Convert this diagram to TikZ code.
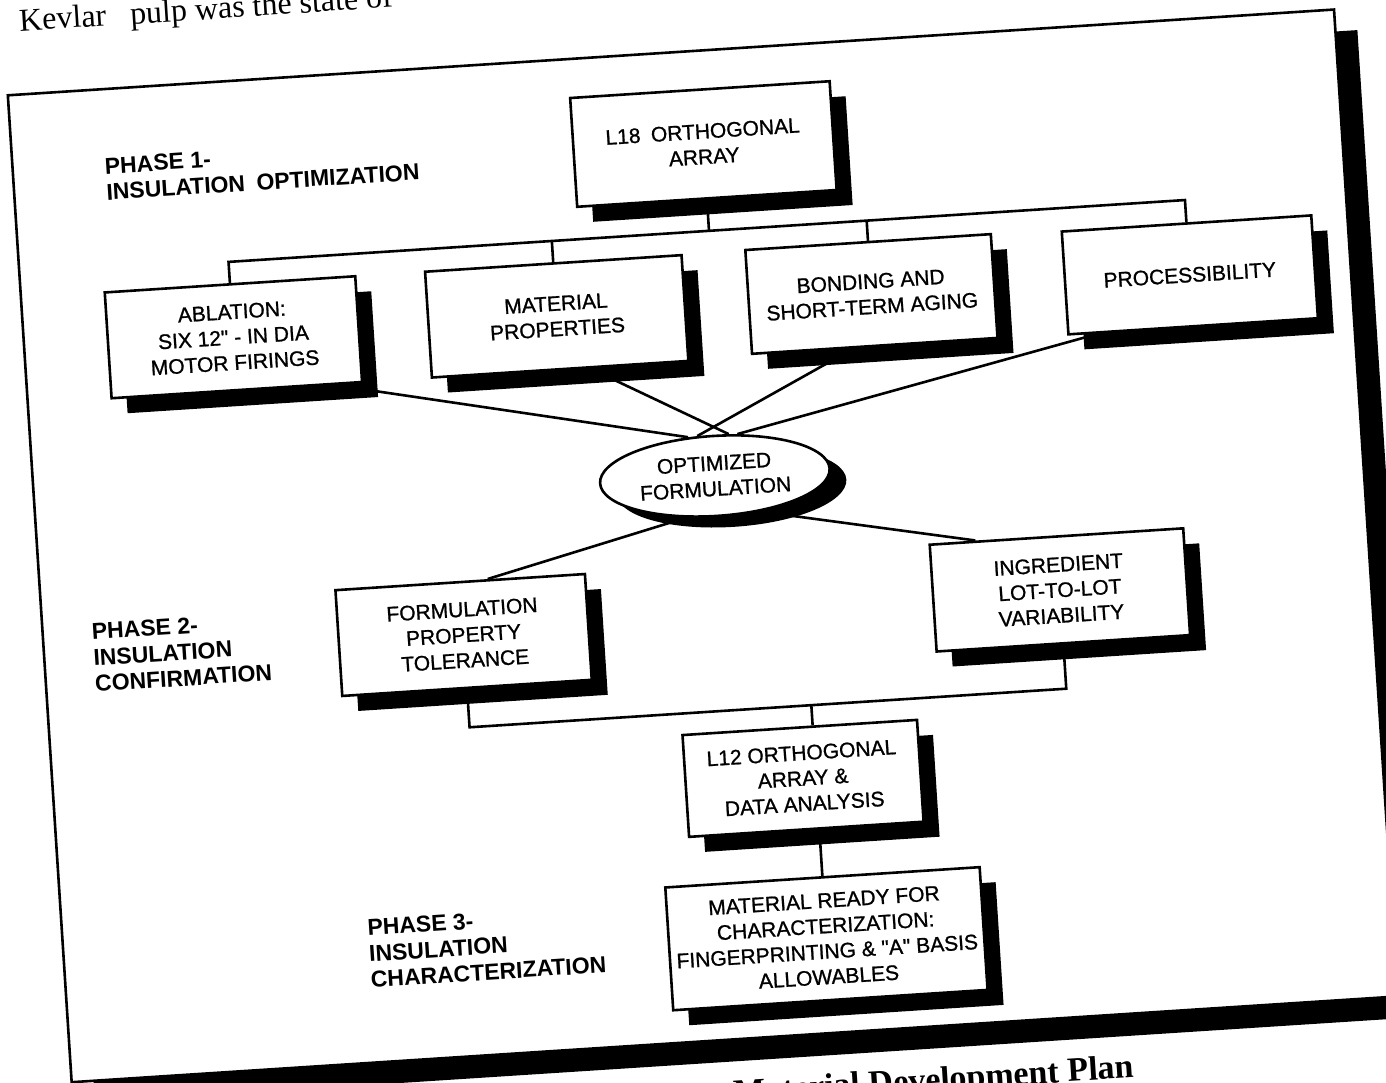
\documentclass[tikz,border=0pt]{standalone}
\usepackage{fontspec}
\setmainfont{Liberation Sans}
\newfontfamily\boxfont{Liberation Sans}[BoldFont={Liberation Sans}, BoldFeatures={FakeBold=1.0}]
\newfontfamily\bookfont{Liberation Serif}
\usetikzlibrary{shapes.geometric}

\tikzset{
  ink/.style={line width=2.6pt, line join=miter},
  wire/.style={ink},
  shade/.style={fill=black},
  box/.style={draw, ink, fill=white, align=center, inner sep=0pt,
    font=\boxfont\bfseries\fontsize{21}{25.5}\selectfont},
  oval/.style={ellipse, draw, ink, fill=white, align=center, inner sep=0pt,
    minimum width=230pt, minimum height=80pt, font=\boxfont\bfseries\fontsize{21}{25.5}\selectfont},
  phase/.style={align=left, anchor=west, inner sep=0pt,
    font=\bfseries\fontsize{23}{26}\selectfont},
}

% straight double quote
\newcommand\dq{\symbol{34}}

% box with a solid offset shadow: name, centre x, centre y, width, height, text
\newcommand\shadowbox[6]{%
  \fill[shade] ({#2-#4/2+15},{#3-#5/2+16}) rectangle ({#2+#4/2+15},{#3+#5/2+16});
  \node[box, minimum width=#4pt, minimum height=#5pt] (#1) at (#2,#3) {#6};
}

\begin{document}
\begin{tikzpicture}[x=1pt, y=-1pt]
\useasboundingbox (0,0) rectangle (1386,1083);
\clip (0,0) rectangle (1386,1083);
\fill[white] (0,0) rectangle (1386,1083);
\begin{scope}[rotate around={3.7:(693,541)}, transform shape]
  % outer frame with its shadow
  \fill[shade] (60,74) rectangle (1389,1063);
  \draw[ink, fill=white] (38,52) rectangle (1367,1041);

  % running text above and caption below
  \node[anchor=base west, inner sep=0pt, font=\bookfont\fontsize{32}{36}\selectfont]
    (runtext) at (54,-11) {Kevlar\hspace{0.5em} pulp was the state of};
  \node[anchor=base east, inner sep=0pt, font=\bookfont\bfseries\fontsize{34}{38}\selectfont]
    (caption) at (1099,1105) {Material Development Plan};

  % phase 1
  \shadowbox{l18}{729}{145.5}{260}{109}{L18\enspace ORTHOGONAL\\ARRAY}
  \shadowbox{abl}{247.5}{308}{251}{106}{ABLATION:\\SIX 12\dq{} - IN DIA\\MOTOR FIRINGS}
  \shadowbox{mat}{571.5}{308}{257}{106}{MATERIAL\\PROPERTIES}
  \shadowbox{bond}{887}{306}{246}{104}{BONDING AND\\SHORT-TERM AGING}
  \shadowbox{proc}{1206}{307.5}{250}{103}{PROCESSIBILITY}

  \fill[shade] (735,489.5) ellipse [x radius=115pt, y radius=40pt];
  \node[oval] (opt) at (719,477.5) {OPTIMIZED\\FORMULATION};

  % phase 2
  \shadowbox{form}{458}{620}{250}{106}{FORMULATION\\PROPERTY\\TOLERANCE}
  \shadowbox{ingr}{1056}{613.5}{254}{107}{INGREDIENT\\LOT-TO-LOT\\VARIABILITY}
  \shadowbox{l12}{787.5}{785}{235}{102}{L12 ORTHOGONAL\\ARRAY \&\\DATA ANALYSIS}

  % phase 3
  \shadowbox{ready}{800.5}{946.5}{315}{123}{MATERIAL READY FOR\\CHARACTERIZATION:\\FINGERPRINTING \& \dq{}A\dq{} BASIS\\ALLOWABLES}

  % phase labels
  \node[phase] (p1) at (130,142) {PHASE 1-\\INSULATION\enspace OPTIMIZATION};
  \node[phase] (p2) at (87,619) {PHASE 2-\\INSULATION\\CONFIRMATION};
  \node[phase] (p3) at (343,932) {PHASE 3-\\INSULATION\\CHARACTERIZATION};

  % connectors
  \coordinate (bar1) at (0,232.5);
  \coordinate (bar2) at (0,712.5);
  \draw[wire] (l18.south) -- (l18.south |- bar1);
  \draw[wire] (abl.north) -- (abl.north |- bar1) -- (proc.north |- bar1) -- (proc.north);
  \draw[wire] (mat.north) -- (mat.north |- bar1);
  \draw[wire] (bond.north) -- (bond.north |- bar1);

  \draw[wire] (abl.-29) -- (opt.121);
  \draw[wire] (mat.-61) -- (opt.68);
  \draw[wire] (bond.-112) -- (opt.110);
  \draw[wire] (proc.-151) -- (opt.58);

  \draw[wire] (opt.-128) -- (form.63);
  \draw[wire] (opt.-42) -- (ingr.146);

  \draw[wire] (form.south) -- (form.south |- bar2) -- (ingr.south |- bar2) -- (ingr.south);
  \draw[wire] (ready.north |- bar2) -- (ready.north |- l12.north);
  \draw[wire] (l12.south -| ready.north) -- (ready.north);
\end{scope}
\end{tikzpicture}
\end{document}
